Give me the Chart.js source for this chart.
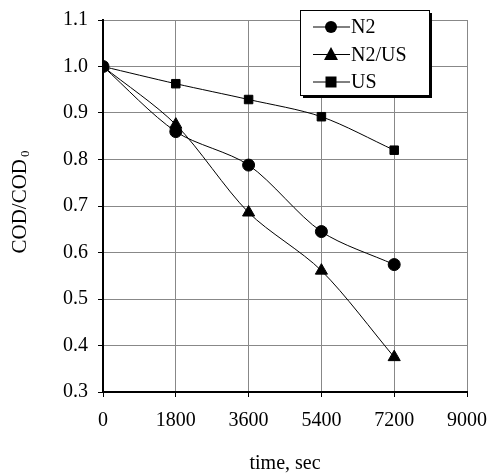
<!DOCTYPE html>
<html>
<head>
<meta charset="utf-8">
<script src="https://cdn.jsdelivr.net/npm/chart.js@4/dist/chart.umd.min.js"></script>
<style>
  html, body { margin: 0; padding: 0; background: #fff; }
  #wrap { width: 489px; height: 476px; }
</style>
</head>
<body>
<div id="wrap"><canvas id="chart" width="489" height="476"></canvas></div>
<script>
// values
const times = [0, 1800, 3600, 5400, 7200];
const n2 = [1.0, 0.86, 0.788, 0.645, 0.574];
const n2us = [1.0, 0.875, 0.686, 0.561, 0.375];
const us = [1.0, 0.963, 0.929, 0.892, 0.82];
const seriesNames = ['N2', 'N2/US', 'US'];
const seriesMarkers = ['circle', 'triangle', 'rect'];

const serif = '"Liberation Serif", "Times New Roman", serif';

function points(vals) {
  return times.map((t, i) => ({ x: t, y: vals[i] }));
}

function marker(ctx, style, x, y) {
  ctx.beginPath();
  if (style === 'circle') {
    ctx.arc(x, y, 6, 0, Math.PI * 2);
  } else if (style === 'triangle') {
    ctx.moveTo(x, y - 7.5);
    ctx.lineTo(x + 7, y + 5.5);
    ctx.lineTo(x - 7, y + 5.5);
    ctx.closePath();
  } else {
    ctx.rect(x - 5.5, y - 5.5, 11, 11);
  }
  ctx.fill();
}

// legend box and y title with subscript
const extras = {
  id: 'extras',
  afterDraw(chart) {
    const ctx = chart.ctx;
    ctx.save();
    // legend
    const bx = 300, by = 10, bw = 129, bh = 85;
    ctx.fillStyle = '#000';
    ctx.fillRect(bx + 3, by + 3, bw, bh);
    ctx.fillStyle = '#fff';
    ctx.fillRect(bx, by, bw, bh);
    ctx.strokeStyle = '#000';
    ctx.lineWidth = 1;
    ctx.strokeRect(bx + 0.5, by + 0.5, bw, bh);
    chart.data.datasets.forEach((ds, i) => {
      const y = 27 + i * 27.5;
      ctx.beginPath();
      ctx.moveTo(313, y);
      ctx.lineTo(350, y);
      ctx.stroke();
      ctx.fillStyle = '#000';
      marker(ctx, ds.pointStyle, 331, y);
      ctx.font = '20px ' + serif;
      ctx.textBaseline = 'middle';
      ctx.textAlign = 'left';
      ctx.fillText(ds.label, 351, y + 1);
    });
    // y axis title
    ctx.translate(26, 202);
    ctx.rotate(-Math.PI / 2);
    ctx.font = '21px ' + serif;
    ctx.textBaseline = 'alphabetic';
    const main = 'COD/COD';
    const w = ctx.measureText(main).width;
    ctx.font = '13px ' + serif;
    const ws = ctx.measureText('0').width;
    const start = -(w + ws + 2) / 2;
    ctx.font = '21px ' + serif;
    ctx.fillText(main, start, 0);
    ctx.font = '13px ' + serif;
    ctx.fillText('0', start + w + 2, 3);
    ctx.restore();
  }
};

new Chart(document.getElementById('chart'), {
  type: 'line',
  data: {
    datasets: [n2, n2us, us].map((vals, i) => ({
      label: seriesNames[i],
      data: points(vals),
      borderColor: '#000',
      borderWidth: 1,
      backgroundColor: '#000',
      pointStyle: seriesMarkers[i],
      pointRadius: i === 1 ? 7 : 6,
      pointBackgroundColor: '#000',
      pointBorderColor: '#000',
      tension: 0.3,
      fill: false
    }))
  },
  options: {
    responsive: false,
    animation: false,
    layout: { padding: { left: 0, right: 22, top: 20, bottom: 0 } },
    plugins: {
      legend: { display: false },
      tooltip: { enabled: false }
    },
    scales: {
      x: {
        type: 'linear',
        min: 0,
        max: 9000,
        ticks: {
          stepSize: 1800,
          padding: 12,
          color: '#000',
          font: { family: serif, size: 20 },
          maxRotation: 0,
          callback: v => String(v)
        },
        grid: { color: '#888', lineWidth: 1, tickLength: 5, tickColor: '#000' },
        border: { color: '#000', width: 2 },
        title: {
          display: true,
          text: 'time, sec',
          color: '#000',
          font: { family: serif, size: 20 },
          padding: { top: 12, bottom: 0 }
        },
        afterFit(scale) {
          scale.height = 84;
          scale.paddingLeft = 0;
          scale.paddingRight = 0;
        }
      },
      y: {
        min: 0.3,
        max: 1.1,
        ticks: {
          stepSize: 0.1,
          padding: 10,
          color: '#000',
          font: { family: serif, size: 20 },
          callback: v => v.toFixed(1)
        },
        grid: { color: '#888', lineWidth: 1, tickLength: 5, tickColor: '#000' },
        border: { color: '#000', width: 2 },
        afterFit(scale) {
          scale.width = 103;
          scale.paddingTop = 0;
          scale.paddingBottom = 0;
        }
      }
    }
  },
  plugins: [extras]
});
</script>
</body>
</html>
